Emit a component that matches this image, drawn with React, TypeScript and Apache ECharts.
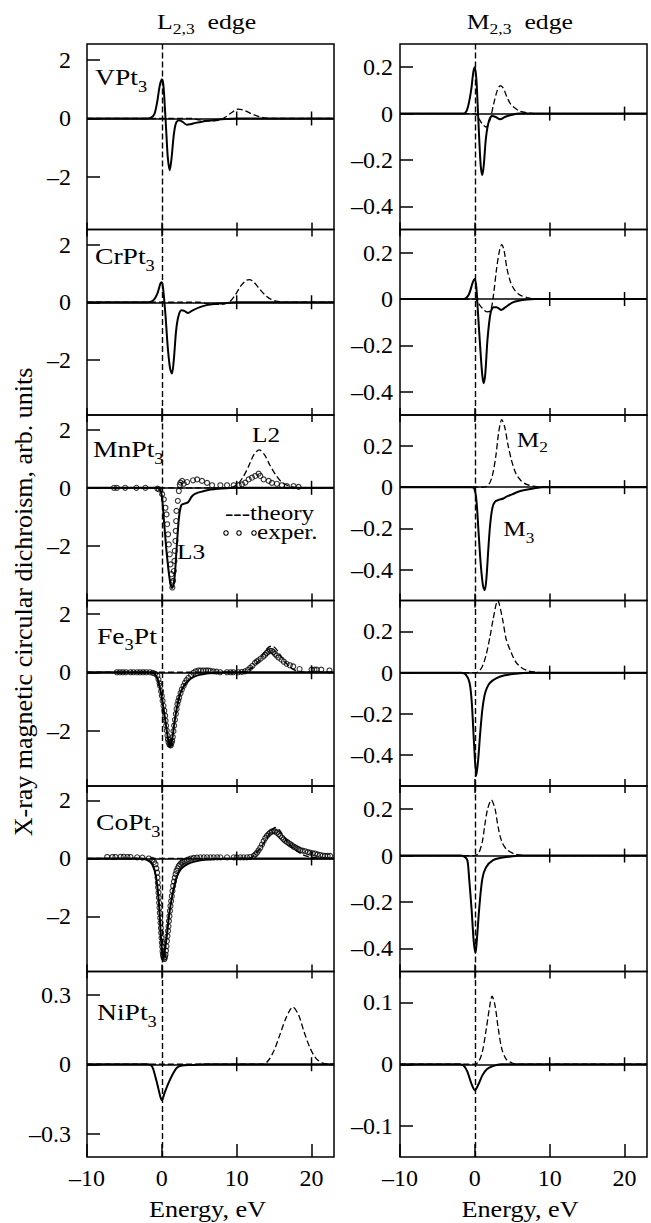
import React, { useEffect, useRef } from 'react';
import * as echarts from 'echarts';

const FONT = "'Liberation Serif', 'Times New Roman', serif";

// ---------- axis ticks ----------
const xTicks = [-10, 0, 10, 20];
const zeroLineTicks = [10, 20];
const yTicksLeft = [-2, 0, 2];
const yTicksLeftNi = [-0.3, 0, 0.3];
const yTicksRight = [-0.4, -0.2, 0, 0.2];
const yTicksRightNi = [-0.1, 0, 0.1];

// ---------- data (energy eV, XMCD arb. units) ----------
// VPt3
const vpt3L_solid = [[-10,0],[-2,0],[-1.5,0.02],[-1,0.15],[-0.6,0.6],[-0.3,1.1],[0,1.34],[0.2,1.15],[0.4,0.4],[0.6,-0.5],[0.8,-1.35],[1.05,-1.77],[1.3,-1.35],[1.6,-0.55],[1.9,-0.15],[2.3,-0.06],[2.8,-0.12],[3.3,-0.21],[3.8,-0.2],[4.5,-0.15],[5.5,-0.1],[6.5,-0.07],[7.5,-0.04],[8.5,-0.02],[10,0],[23,0]];
const vpt3L_dashed = [[-10,0],[4,0],[5,-0.05],[6,-0.08],[7,-0.08],[7.8,-0.04],[8.5,0.05],[9.2,0.18],[10.2,0.32],[11,0.28],[12,0.16],[13,0.06],[14,0.01],[15,0],[23,0]];
const vpt3M_solid = [[-10,0],[-1.5,0],[-1,0.02],[-0.5,0.1],[-0.2,0.18],[0,0.2],[0.2,0.15],[0.4,0.02],[0.6,-0.12],[0.8,-0.23],[1,-0.265],[1.2,-0.22],[1.5,-0.1],[1.9,-0.03],[2.3,-0.01],[2.8,-0.015],[3.4,-0.025],[4,-0.015],[5,-0.005],[6,0],[23,0]];
const vpt3M_dashed = [[-10,0],[0,0],[0.5,-0.02],[1,-0.045],[1.5,-0.058],[2,-0.03],[2.5,0.04],[3,0.1],[3.4,0.12],[3.8,0.11],[4.3,0.07],[4.8,0.04],[5.3,0.025],[6,0.01],[7,0.003],[8,0],[23,0]];
// CrPt3
const crpt3L_solid = [[-10,0],[-2,0],[-1.2,0.05],[-0.6,0.3],[-0.2,0.65],[0,0.7],[0.2,0.4],[0.5,-0.5],[0.8,-1.6],[1.1,-2.3],[1.35,-2.48],[1.6,-2.0],[1.9,-1.0],[2.2,-0.5],[2.6,-0.28],[3,-0.3],[3.5,-0.37],[4,-0.3],[5,-0.18],[6,-0.1],[7,-0.06],[8,-0.04],[9,-0.02],[10,0],[23,0]];
const crpt3L_dashed = [[-10,0],[5,0],[6,-0.05],[7,-0.07],[8,-0.07],[9,0],[9.8,0.25],[10.5,0.55],[11.2,0.75],[11.7,0.79],[12.3,0.7],[13,0.48],[13.8,0.25],[14.6,0.1],[15.5,0.03],[16.5,0],[23,0]];
const crpt3M_solid = [[-10,0],[-1.5,0],[-0.8,0.02],[-0.3,0.07],[0,0.086],[0.2,0.05],[0.4,-0.05],[0.7,-0.2],[1,-0.33],[1.2,-0.363],[1.4,-0.32],[1.7,-0.17],[2.1,-0.06],[2.5,-0.035],[2.9,-0.035],[3.5,-0.047],[4.1,-0.035],[5,-0.015],[6,-0.006],[7,-0.002],[8,0],[23,0]];
const crpt3M_dashed = [[-10,0],[0,0],[0.5,-0.02],[1,-0.04],[1.6,-0.055],[2.1,-0.05],[2.5,0.02],[2.9,0.13],[3.3,0.21],[3.6,0.235],[3.9,0.21],[4.3,0.13],[4.8,0.07],[5.3,0.04],[6,0.018],[7,0.006],[8,0],[23,0]];
// MnPt3
const mnpt3L_solid = [[-10,0],[-1,0],[-0.3,-0.05],[0,-0.3],[0.3,-1.2],[0.7,-2.4],[1.1,-3.25],[1.4,-3.47],[1.7,-3.1],[2,-2.0],[2.3,-1.0],[2.6,-0.6],[3,-0.55],[3.5,-0.5],[4,-0.3],[4.5,-0.2],[5.5,-0.12],[6.5,-0.06],[7.5,-0.03],[9,-0.01],[10,0],[23,0]];
const mnpt3L_dashed = [[-10,0],[9,0],[10,0.1],[10.8,0.35],[11.6,0.75],[12.3,1.15],[13,1.31],[13.7,1.15],[14.4,0.8],[15.2,0.45],[16,0.2],[17,0.06],[18,0.01],[19,0],[23,0]];
const mnpt3L_exp = [[-6.4,0],[-6.0,0],[-4.9,0],[-3.4,0],[-2.2,0],[-0.6,-0.03],[-0.4,-0.05],[0.04,-0.22],[0.27,-0.4],[0.48,-0.69],[0.62,-0.92],[0.71,-1.26],[0.84,-1.61],[0.93,-1.96],[1.06,-2.3],[1.15,-2.65],[1.28,-2.99],[1.37,-3.28],[1.4,-3.45],[1.51,-3.22],[1.6,-2.88],[1.68,-2.53],[1.73,-2.18],[1.82,-1.84],[1.85,-1.49],[1.91,-1.15],[1.95,-0.8],[2.13,-0.45],[2.27,-0.11],[2.4,0.1],[2.49,0.18],[2.71,0.24],[2.93,0.14],[3.37,0.2],[4.17,0.26],[4.71,0.29],[5.37,0.24],[6.04,0.17],[6.71,0.09],[7.82,0.09],[8.71,0.09],[9.6,0.09],[10.27,0.09],[10.71,0.12],[11.15,0.18],[11.6,0.29],[12.04,0.35],[12.48,0.41],[12.93,0.49],[13.15,0.41],[13.6,0.29],[14.27,0.24],[14.71,0.17],[15.37,0.14],[16.04,0.09],[16.71,0.06],[17.6,0.06],[18.27,0.03]];
const mnpt3M_solid = [[-10,0],[-0.5,0],[-0.1,-0.005],[0.2,-0.06],[0.5,-0.22],[0.8,-0.38],[1.1,-0.48],[1.33,-0.5],[1.55,-0.44],[1.8,-0.3],[2.05,-0.18],[2.35,-0.1],[2.7,-0.07],[3.2,-0.062],[3.8,-0.055],[4.3,-0.045],[5,-0.035],[5.6,-0.025],[6.5,-0.015],[7.8,-0.007],[9,0],[23,0]];
const mnpt3M_dashed = [[-10,0],[1.2,0],[1.8,0.01],[2.3,0.05],[2.8,0.15],[3.2,0.27],[3.6,0.328],[4,0.29],[4.4,0.21],[4.9,0.13],[5.5,0.065],[6.2,0.03],[7,0.012],[8,0.004],[9,0],[23,0]];
// Fe3Pt
const fe3ptL_solid = [[-10,0],[-1.5,0],[-1,-0.05],[-0.6,-0.2],[-0.2,-0.6],[0.2,-1.2],[0.6,-1.9],[0.9,-2.4],[1.1,-2.55],[1.35,-2.35],[1.7,-1.7],[2.1,-1.1],[2.5,-0.7],[3,-0.45],[3.5,-0.3],[4.2,-0.17],[5,-0.09],[6,-0.04],[7,-0.02],[8.5,0],[23,0]];
const fe3ptL_dashed = [[-10,0],[10.5,0],[11.2,0.03],[12,0.15],[12.8,0.35],[13.6,0.65],[14.2,0.85],[14.7,0.9],[15.2,0.82],[15.8,0.6],[16.5,0.35],[17.2,0.16],[18,0.05],[19,0.01],[20,0],[23,0]];
const fe3ptL_exp = [[-6.0,0],[-5.6,0],[-5.2,0],[-4.8,0],[-4.2,0],[-3.8,0],[-3.3,0],[-2.9,0],[-2.5,0],[-2.1,0],[-1.6,0],[-1.2,-0.02],[-0.9,-0.05],[-0.6,-0.12],[-0.45,-0.25],[-0.3,-0.38],[-0.23,-0.47],[-0.1,-0.65],[0,-0.81],[0.1,-0.98],[0.22,-1.15],[0.33,-1.32],[0.44,-1.49],[0.5,-1.66],[0.57,-1.83],[0.66,-2.0],[0.75,-2.17],[0.82,-2.3],[0.89,-2.39],[1.0,-2.47],[1.1,-2.5],[1.2,-2.51],[1.3,-2.42],[1.38,-2.35],[1.46,-2.22],[1.55,-2.02],[1.64,-1.83],[1.75,-1.63],[1.87,-1.43],[1.97,-1.26],[2.08,-1.1],[2.2,-0.98],[2.31,-0.87],[2.5,-0.72],[2.67,-0.59],[2.9,-0.47],[3.1,-0.36],[3.3,-0.27],[3.55,-0.19],[3.9,-0.1],[4.2,-0.02],[4.5,0.03],[4.88,0.06],[5.2,0.06],[5.55,0.06],[5.9,0.06],[6.2,0.06],[6.5,0.05],[6.9,0.03],[7.3,0.02],[7.8,0],[8.7,0],[9.2,0],[9.55,0],[10.2,0],[10.7,0.01],[11.1,0.03],[11.5,0.08],[11.8,0.15],[12.1,0.22],[12.45,0.32],[12.7,0.37],[12.9,0.41],[13.2,0.47],[13.55,0.54],[13.8,0.6],[14,0.66],[14.2,0.7],[14.45,0.74],[14.7,0.73],[14.9,0.69],[15.1,0.63],[15.33,0.57],[15.6,0.5],[16,0.43],[16.3,0.36],[16.67,0.29],[17.1,0.24],[17.55,0.2],[18.4,0.11],[20,0.09],[20.4,0.09],[20.7,0.09],[21.3,0.09],[22.4,0.06]];
const fe3ptM_solid = [[-10,0],[-1.8,0],[-1.2,-0.01],[-0.7,-0.05],[-0.4,-0.15],[-0.1,-0.35],[0.2,-0.5],[0.45,-0.42],[0.7,-0.3],[1,-0.18],[1.3,-0.11],[1.6,-0.075],[2,-0.05],[2.9,-0.027],[4,-0.013],[5.5,-0.005],[7,0],[23,0]];
const fe3ptM_dashed = [[-10,0],[0,0],[0.5,0.005],[1,0.03],[1.5,0.085],[2,0.17],[2.45,0.26],[3.05,0.35],[3.7,0.26],[4.2,0.16],[4.9,0.094],[5.5,0.05],[6.2,0.025],[7,0.01],[8,0.003],[9,0],[23,0]];
// CoPt3
const copt3L_solid = [[-10,0],[-3,0],[-2,-0.05],[-1.3,-0.2],[-0.8,-0.6],[-0.4,-1.5],[-0.1,-2.8],[0.17,-3.47],[0.45,-3.1],[0.71,-2.57],[1,-1.9],[1.37,-1.3],[1.7,-0.9],[2.04,-0.6],[2.6,-0.35],[3.37,-0.2],[4.5,-0.1],[6,-0.04],[8,-0.01],[10,0],[23,0]];
const copt3L_dashed = [[-10,0],[11,0],[11.8,0.02],[12.5,0.15],[13.3,0.4],[14,0.7],[14.6,0.95],[15.15,1.07],[15.7,0.98],[16.3,0.75],[17,0.5],[17.8,0.3],[18.6,0.16],[19.5,0.07],[20.5,0.03],[21.5,0.01],[23,0]];
const copt3L_exp = [[-7.3,0.05],[-6.6,0.05],[-6.2,0.05],[-5.5,0.06],[-5.1,0.06],[-4.6,0.05],[-4.2,0.05],[-3.3,0.04],[-2.6,0.03],[-1.74,0],[-1.29,-0.05],[-1.05,-0.12],[-0.85,-0.2],[-0.74,-0.34],[-0.63,-0.49],[-0.58,-0.66],[-0.54,-0.84],[-0.5,-1.0],[-0.45,-1.18],[-0.4,-1.35],[-0.36,-1.53],[-0.31,-1.7],[-0.27,-1.88],[-0.22,-2.05],[-0.18,-2.22],[-0.13,-2.4],[-0.09,-2.57],[-0.04,-2.74],[0,-2.91],[0.05,-3.05],[0.09,-3.2],[0.14,-3.3],[0.18,-3.37],[0.26,-3.44],[0.35,-3.47],[0.42,-3.4],[0.49,-3.32],[0.55,-3.18],[0.62,-3.03],[0.68,-2.85],[0.75,-2.68],[0.82,-2.5],[0.89,-2.34],[0.95,-2.16],[1.02,-1.99],[1.08,-1.81],[1.15,-1.64],[1.24,-1.47],[1.33,-1.3],[1.42,-1.12],[1.51,-0.95],[1.62,-0.8],[1.73,-0.66],[1.84,-0.54],[1.95,-0.43],[2.1,-0.34],[2.27,-0.26],[2.45,-0.2],[2.62,-0.15],[2.8,-0.12],[3.02,-0.09],[3.3,-0.06],[3.6,-0.03],[3.9,0],[4.27,0.02],[4.7,0.03],[5.15,0.04],[5.6,0.04],[6.04,0.04],[6.5,0.04],[6.93,0.04],[7.4,0.04],[7.82,0.04],[8.71,0.04],[9.6,0.04],[10,0.04],[10.48,0.04],[10.9,0.04],[11.37,0.04],[11.8,0.05],[12.27,0.09],[12.5,0.14],[12.71,0.2],[12.93,0.28],[13.15,0.37],[13.38,0.48],[13.6,0.6],[13.82,0.7],[14.04,0.78],[14.26,0.84],[14.48,0.89],[14.7,0.93],[14.93,0.95],[15.15,0.93],[15.37,0.89],[15.6,0.84],[15.81,0.78],[16.05,0.72],[16.27,0.66],[16.5,0.61],[16.71,0.57],[16.93,0.53],[17.15,0.49],[17.38,0.45],[17.6,0.41],[17.82,0.38],[18.04,0.35],[18.26,0.32],[18.48,0.29],[18.8,0.27],[19.15,0.25],[19.5,0.22],[19.81,0.2],[20.15,0.18],[20.48,0.17],[20.8,0.14],[21.15,0.12],[21.5,0.1],[21.81,0.09],[22.15,0.09],[22.48,0.09]];
const copt3M_solid = [[-10,0],[-2,0],[-1.4,-0.005],[-1,-0.02],[-0.76,-0.1],[-0.44,-0.23],[-0.15,-0.37],[0.09,-0.42],[0.3,-0.35],[0.58,-0.23],[1,-0.1],[1.5,-0.05],[2.44,-0.02],[3.5,-0.01],[5,-0.003],[6,0],[23,0]];
const copt3M_dashed = [[-10,0],[0,0],[0.5,0.01],[1,0.06],[1.3,0.125],[1.7,0.2],[2.2,0.24],[2.7,0.2],[3.1,0.125],[3.6,0.06],[4.3,0.025],[5.5,0.005],[7,0],[23,0]];
// NiPt3
const nipt3L_solid = [[-10,0],[-1.8,0],[-1.3,-0.01],[-0.9,-0.05],[-0.5,-0.1],[-0.2,-0.14],[0,-0.155],[0.4,-0.12],[0.9,-0.08],[1.5,-0.04],[2,-0.015],[2.7,-0.005],[4,-0.003],[6,0],[23,0]];
const nipt3L_dashed = [[-10,0],[13.5,0],[14.2,0.015],[15,0.06],[15.8,0.13],[16.6,0.2],[17.5,0.247],[18.3,0.21],[19,0.14],[19.8,0.07],[20.6,0.025],[21.5,0.005],[23,0]];
const nipt3M_solid = [[-10,0],[-2,0],[-1.5,-0.002],[-1,-0.012],[-0.5,-0.03],[0,-0.042],[0.5,-0.032],[1,-0.018],[1.6,-0.008],[2.4,-0.003],[3.5,0],[23,0]];
const nipt3M_dashed = [[-10,0],[0,0],[0.5,0.004],[1,0.02],[1.5,0.055],[2,0.095],[2.3,0.11],[2.7,0.095],[3.1,0.06],[3.6,0.025],[4.2,0.008],[5,0.002],[6,0],[23,0]];

type Panel = { solid: number[][]; dashed: number[][]; exp?: number[][]; yMin: number; yMax: number; yTicks: number[] };

const panels: Panel[] = [
  { solid: vpt3L_solid, dashed: vpt3L_dashed, yMin: -3.8, yMax: 2.55, yTicks: yTicksLeft },
  { solid: vpt3M_solid, dashed: vpt3M_dashed, yMin: -0.5, yMax: 0.3, yTicks: yTicksRight },
  { solid: crpt3L_solid, dashed: crpt3L_dashed, yMin: -3.92, yMax: 2.53, yTicks: yTicksLeft },
  { solid: crpt3M_solid, dashed: crpt3M_dashed, yMin: -0.5, yMax: 0.3, yTicks: yTicksRight },
  { solid: mnpt3L_solid, dashed: mnpt3L_dashed, exp: mnpt3L_exp, yMin: -3.9, yMax: 2.52, yTicks: yTicksLeft },
  { solid: mnpt3M_solid, dashed: mnpt3M_dashed, yMin: -0.55, yMax: 0.35, yTicks: yTicksRight },
  { solid: fe3ptL_solid, dashed: fe3ptL_dashed, exp: fe3ptL_exp, yMin: -3.9, yMax: 2.46, yTicks: yTicksLeft },
  { solid: fe3ptM_solid, dashed: fe3ptM_dashed, yMin: -0.55, yMax: 0.35, yTicks: yTicksRight },
  { solid: copt3L_solid, dashed: copt3L_dashed, exp: copt3L_exp, yMin: -3.9, yMax: 2.5, yTicks: yTicksLeft },
  { solid: copt3M_solid, dashed: copt3M_dashed, yMin: -0.5, yMax: 0.3, yTicks: yTicksRight },
  { solid: nipt3L_solid, dashed: nipt3L_dashed, yMin: -0.4, yMax: 0.4, yTicks: yTicksLeftNi },
  { solid: nipt3M_solid, dashed: nipt3M_dashed, yMin: -0.15, yMax: 0.15, yTicks: yTicksRightNi },
];

const fmt = (v: number) => String(v).replace('-', '\u2013');

function richText(x: number, y: number, text: string, size: number, subSize: number, subPad: number, scaleX = 1.15, align = 'left') {
  return {
    type: 'text',
    x, y, scaleX, z: 100,
    style: {
      text,
      fill: '#000',
      align, textAlign: align,
      verticalAlign: 'middle', textVerticalAlign: 'middle',
      fontSize: size, fontFamily: FONT,
      rich: {
        m: { fontSize: size, fontFamily: FONT, fill: '#000' },
        s: { fontSize: subSize, fontFamily: FONT, fill: '#000', padding: [subPad, 0, 0, 0] },
      },
    },
  };
}

function plainText(x: number, y: number, text: string, size: number, scaleX = 1.15, align = 'left', rotation = 0) {
  return {
    type: 'text',
    x, y, scaleX, rotation, z: 100,
    style: {
      text, fill: '#000',
      align, textAlign: align,
      verticalAlign: 'middle', textVerticalAlign: 'middle',
      fontSize: size, fontFamily: FONT,
    },
  };
}

function buildOption() {
  const grid: any[] = [];
  const xBottom: any[] = [];
  const xTop: any[] = [];
  const yAxis: any[] = [];
  const series: any[] = [];
  const ROW_TOP = 44;
  const ROW_H = 185.5;
  const tickLine = { color: '#000', width: 1.5 };

  panels.forEach((p, i) => {
    const row = Math.floor(i / 2);
    const col = i % 2;
    grid.push({
      left: col === 0 ? 87 : 400,
      top: ROW_TOP + row * ROW_H,
      width: 247,
      height: ROW_H,
      show: true,
      borderColor: '#000',
      borderWidth: 1.5,
      backgroundColor: 'transparent',
      containLabel: false,
      outerBoundsMode: 'none',
    });
    xBottom.push({
      gridIndex: i, type: 'value', min: -10, max: 23, position: 'bottom',
      axisLine: { show: false, onZero: false },
      axisTick: { show: true, inside: true, length: row === 5 ? 13 : 7, customValues: xTicks, lineStyle: tickLine },
      axisLabel: { show: row === 5, customValues: xTicks, formatter: fmt, margin: 9, fontSize: 24, fontFamily: FONT, color: '#000' },
      splitLine: { show: false },
    });
    xTop.push({
      gridIndex: i, type: 'value', min: -10, max: 23, position: 'top',
      axisLine: { show: false, onZero: false },
      axisTick: { show: row > 0, inside: true, length: 7, customValues: xTicks, lineStyle: tickLine },
      axisLabel: { show: false },
      splitLine: { show: false },
    });
    yAxis.push({
      gridIndex: i, type: 'value', min: p.yMin, max: p.yMax, position: 'left',
      axisLine: { show: false, onZero: false },
      axisTick: { show: true, inside: true, length: 13, customValues: p.yTicks, lineStyle: tickLine },
      axisLabel: { show: true, customValues: p.yTicks, formatter: fmt, margin: col === 0 ? 16 : 7, fontSize: 24, fontFamily: FONT, color: '#000' },
      splitLine: { show: false },
    });
    series.push({
      type: 'line', xAxisIndex: i, yAxisIndex: i, data: p.solid,
      showSymbol: false, symbol: 'none', smooth: 0.3, silent: true, z: 3,
      lineStyle: { color: '#000', width: 2 },
      markLine: {
        silent: true, symbol: ['none', 'none'], label: { show: false },
        data: [
          { yAxis: 0, lineStyle: { color: '#000', width: 1.5, type: 'solid' } },
          { xAxis: 0, lineStyle: { color: '#000', width: 1.4, type: [6, 3] } },
        ],
      },
    });
    series.push({
      type: 'line', xAxisIndex: i, yAxisIndex: i, data: p.dashed,
      showSymbol: false, symbol: 'none', smooth: 0.3, silent: true, z: 2,
      lineStyle: { color: '#000', width: 1.3, type: [6, 3] },
    });
    if (p.exp) {
      series.push({
        type: 'scatter', xAxisIndex: i, yAxisIndex: i, data: p.exp,
        symbol: 'circle', symbolSize: 5, silent: true, z: 4,
        itemStyle: { color: 'rgba(255,255,255,0)', borderColor: '#000', borderWidth: 1.1 },
      });
    }
    series.push({
      type: 'custom', xAxisIndex: i, yAxisIndex: i, silent: true, z: 5, clip: false,
      data: zeroLineTicks.map((t) => [t, 0]),
      renderItem: (params: any, api: any) => {
        const pt = api.coord([api.value(0), api.value(1)]);
        return {
          type: 'line',
          shape: { x1: pt[0], y1: pt[1] - 7, x2: pt[0], y2: pt[1] + 7 },
          style: { stroke: '#000', lineWidth: 1.5 },
        };
      },
    });
  });

  const graphic: any[] = [
    richText(157, 21.7, '{m|L}{s|2,3}{m|  edge}', 22, 15, 14, 1.17),
    richText(466.7, 21.7, '{m|M}{s|2,3}{m|  edge}', 22, 15, 14, 1.17),
    richText(95, 76.7, '{m|VPt}{s|3}', 24, 16, 20, 1.15),
    richText(95, 255.8, '{m|CrPt}{s|3}', 24, 16, 20, 1.15),
    richText(93, 449, '{m|MnPt}{s|3}', 24, 16, 20, 1.15),
    richText(97, 636, '{m|Fe}{s|3}{m|Pt}', 24, 16, 18, 1.15),
    richText(96, 821.7, '{m|CoPt}{s|3}', 24, 16, 20, 1.15),
    richText(97, 1011.7, '{m|NiPt}{s|3}', 24, 16, 20, 1.15),
    plainText(252, 435, 'L2', 22, 1.15),
    plainText(177, 552, 'L3', 22, 1.15),
    plainText(225, 513, '---theory', 22, 1.14),
    plainText(257, 532, 'exper.', 22, 1.14),
    { type: 'circle', z: 100, shape: { cx: 226, cy: 533, r: 2.2 }, style: { fill: 'none', stroke: '#000', lineWidth: 1.1 } },
    { type: 'circle', z: 100, shape: { cx: 239, cy: 533, r: 2.2 }, style: { fill: 'none', stroke: '#000', lineWidth: 1.1 } },
    { type: 'circle', z: 100, shape: { cx: 254, cy: 533, r: 2.2 }, style: { fill: 'none', stroke: '#000', lineWidth: 1.1 } },
    richText(516.7, 440, '{m|M}{s|2}', 22, 15, 14, 1.15),
    richText(503.3, 529, '{m|M}{s|3}', 22, 15, 18, 1.15),
    plainText(207.5, 1209, 'Energy, eV', 23, 1.14, 'center'),
    plainText(520, 1209, 'Energy, eV', 23, 1.14, 'center'),
    plainText(23.5, 602, 'X-ray magnetic circular dichroism, arb. units', 26, 1, 'center', Math.PI / 2),
  ];

  return {
    animation: false,
    backgroundColor: '#fff',
    textStyle: { fontFamily: FONT },
    grid,
    xAxis: [...xBottom, ...xTop],
    yAxis,
    series,
    graphic,
  };
}

export default function App() {
  const ref = useRef<HTMLDivElement>(null);
  useEffect(() => {
    if (!ref.current) return;
    const chart = echarts.init(ref.current, null, { renderer: 'svg' });
    chart.setOption(buildOption() as any);
    return () => chart.dispose();
  }, []);
  return (
    <div
      ref={ref}
      style={{ position: 'absolute', left: 0, top: 0, width: 651, height: 1223, background: '#fff' }}
    />
  );
}
